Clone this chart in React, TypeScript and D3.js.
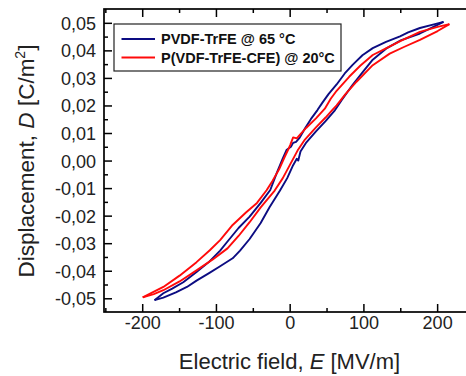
import React from "react";
import * as d3 from "d3";

// D–E hysteresis branches: [E (MV/m), D (C/m²)]
const pvdfDown: [number, number][] = [
  [208, 0.0505], [195, 0.0496], [176, 0.0483], [160, 0.0467], [149, 0.0453],
  [130, 0.0433], [112, 0.041], [98, 0.0384], [85, 0.035], [74, 0.0318],
  [63, 0.0278], [52, 0.0243], [44, 0.0213], [37, 0.0185], [28, 0.0152],
  [20, 0.0118], [13, 0.0085], [8, 0.007], [4, 0.0066], [1, 0.0052],
  [-5, 0.004], [-10, 0.001], [-18, -0.0042], [-27, -0.0105], [-40, -0.0152],
  [-55, -0.0202], [-70, -0.0243], [-85, -0.0292], [-95, -0.0325], [-110, -0.0366],
  [-127, -0.0403], [-145, -0.044], [-160, -0.0463], [-172, -0.048], [-184, -0.0505],
];
const pvdfUp: [number, number][] = [
  [-184, -0.0505], [-172, -0.0496], [-155, -0.0477], [-140, -0.0457], [-127, -0.0434],
  [-110, -0.0407], [-95, -0.0382], [-78, -0.0353], [-68, -0.0325], [-55, -0.0283],
  [-40, -0.0225], [-28, -0.0168], [-14, -0.0108], [-4, -0.0062], [4, -0.0015],
  [9, 0.0008], [11, 0.0002], [14, 0.0035], [22, 0.0068], [35, 0.0108],
  [48, 0.0145], [60, 0.0182], [70, 0.0222], [85, 0.0278], [100, 0.0328],
  [112, 0.0368], [130, 0.0408], [150, 0.0438], [176, 0.0463], [195, 0.0488],
  [208, 0.0505],
];
const cfeDown: [number, number][] = [
  [216, 0.0497], [200, 0.0487], [176, 0.0469], [150, 0.0436], [130, 0.0409],
  [112, 0.0385], [95, 0.0346], [80, 0.0306], [63, 0.0255], [55, 0.0226],
  [47, 0.019], [35, 0.0155], [22, 0.0121], [14, 0.0098], [9, 0.0082],
  [4, 0.0086], [0, 0.0058], [-3, 0.004], [-8, 0.0012], [-15, -0.003],
  [-24, -0.0072], [-32, -0.0106], [-45, -0.0152], [-60, -0.0187], [-78, -0.0232],
  [-95, -0.0287], [-109, -0.0324], [-127, -0.0367], [-150, -0.0416], [-172, -0.0457],
  [-190, -0.0481], [-200, -0.0495],
];
const cfeUp: [number, number][] = [
  [-200, -0.0495], [-185, -0.0483], [-172, -0.0469], [-150, -0.0437], [-127, -0.0397],
  [-105, -0.0357], [-85, -0.0317], [-70, -0.0272], [-55, -0.0222], [-40, -0.0168],
  [-21, -0.0107], [-10, -0.0062], [0, -0.0012], [6, 0.0018], [10, 0.0038],
  [20, 0.0078], [35, 0.0122], [48, 0.0158], [57, 0.0185], [63, 0.0202],
  [75, 0.0243], [90, 0.0288], [112, 0.0348], [135, 0.039], [155, 0.0415],
  [176, 0.044], [200, 0.0472], [216, 0.0497],
];

const xMajor = [-200, -100, 0, 100, 200];
const xMinor = [-250, -150, -50, 50, 150, 250];
const yMajor = [-0.05, -0.04, -0.03, -0.02, -0.01, 0, 0.01, 0.02, 0.03, 0.04, 0.05];
const yMinor = [-0.045, -0.035, -0.025, -0.015, -0.005, 0.005, 0.015, 0.025, 0.035, 0.045];

const seriesNames = ["PVDF-TrFE @ 65 °C", "P(VDF-TrFE-CFE) @ 20°C"];
const seriesColors = ["#0c0c82", "#ff0a0a"];

const W = 466;
const H = 376;
const left = 104;
const right = 474.5;
const top = 9;
const bottom = 312;
const font = "Arial, 'Liberation Sans', sans-serif";

export default function App() {
  const x = d3.scaleLinear().domain([-252.5, 250]).range([left, right]);
  const y = d3.scaleLinear().domain([-0.0548, 0.0552]).range([bottom, top]);
  const line = d3
    .line<[number, number]>()
    .x((d) => x(d[0]))
    .y((d) => y(d[1]))
    .curve(d3.curveLinear);
  const fmtY = (v: number) => d3.format(".2f")(v).replace("−", "-").replace(".", ",");

  const loops = [
    [pvdfDown, pvdfUp],
    [cfeDown, cfeUp],
  ];

  return (
    <svg
      width={W}
      height={H}
      style={{ position: "absolute", left: 0, top: 0, background: "#fff" }}
      fontFamily={font}
    >
      {/* loops */}
      {loops.map((branches, i) =>
        branches.map((b, j) => (
          <path
            key={`${i}-${j}`}
            d={line(b) || ""}
            fill="none"
            stroke={seriesColors[i]}
            strokeWidth={1.9}
            strokeLinejoin="round"
          />
        ))
      )}

      {/* frame */}
      <rect x={left} y={top} width={right - left} height={bottom - top} fill="none" stroke="#000" strokeWidth={1.7} />

      {/* x ticks, bottom and top, pointing inward */}
      {xMajor.map((v) => (
        <g key={`xM${v}`}>
          <line x1={x(v)} x2={x(v)} y1={bottom} y2={bottom - 8} stroke="#000" strokeWidth={1.5} />
          <line x1={x(v)} x2={x(v)} y1={top} y2={top + 8} stroke="#000" strokeWidth={1.5} />
          <text x={x(v)} y={329} fontSize={18} textAnchor="middle" fill="#222">
            {v < 0 ? `-${Math.abs(v)}` : v}
          </text>
        </g>
      ))}
      {xMinor.map((v) => (
        <g key={`xm${v}`}>
          <line x1={x(v)} x2={x(v)} y1={bottom} y2={bottom - 4} stroke="#000" strokeWidth={1.5} />
          <line x1={x(v)} x2={x(v)} y1={top} y2={top + 4} stroke="#000" strokeWidth={1.5} />
        </g>
      ))}

      {/* y ticks */}
      {yMajor.map((v) => (
        <g key={`yM${v}`}>
          <line x1={left} x2={left + 8} y1={y(v)} y2={y(v)} stroke="#000" strokeWidth={1.5} />
          <line x1={right} x2={right - 8} y1={y(v)} y2={y(v)} stroke="#000" strokeWidth={1.5} />
          <text x={96} y={y(v) + 6.5} fontSize={18} textAnchor="end" fill="#222">
            {fmtY(v)}
          </text>
        </g>
      ))}
      {yMinor.map((v) => (
        <g key={`ym${v}`}>
          <line x1={left} x2={left + 4} y1={y(v)} y2={y(v)} stroke="#000" strokeWidth={1.5} />
          <line x1={right} x2={right - 4} y1={y(v)} y2={y(v)} stroke="#000" strokeWidth={1.5} />
        </g>
      ))}

      {/* axis titles */}
      <text x={289.5} y={369} fontSize={22} textAnchor="middle" fill="#222">
        Electric field, <tspan fontStyle="italic">E</tspan> [MV/m]
      </text>
      <text
        transform={`translate(34, ${161}) rotate(-90)`}
        fontSize={22.5}
        textAnchor="middle"
        fill="#222"
      >
        Displacement, <tspan fontStyle="italic">D</tspan> [C/m
        <tspan fontSize={14} dy={-9}>2</tspan>
        <tspan dy={9}>]</tspan>
      </text>

      {/* legend */}
      <rect x={114} y={24} width={227} height={47} fill="#fff" stroke="#222" strokeWidth={1.2} />
      {seriesNames.map((name, i) => (
        <g key={name}>
          <line
            x1={121.5}
            x2={155}
            y1={39 + i * 18.5}
            y2={39 + i * 18.5}
            stroke={seriesColors[i]}
            strokeWidth={2.2}
          />
          <text x={161} y={44 + i * 18.5} fontSize={14.5} fontWeight="bold" fill="#111">
            {name}
          </text>
        </g>
      ))}
    </svg>
  );
}
